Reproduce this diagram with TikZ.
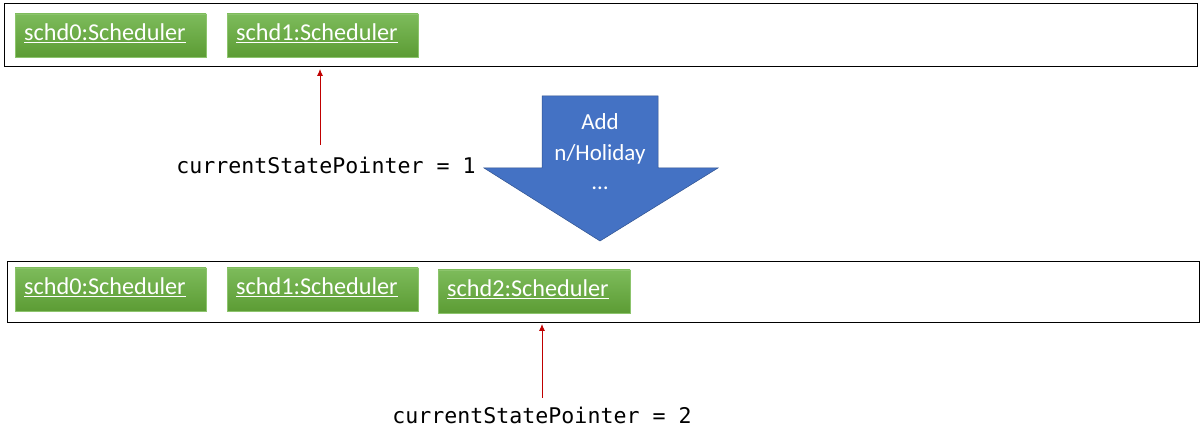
\documentclass[tikz,border=0pt]{standalone}
\usepackage{fontspec}
\setmainfont{Carlito}
\newfontfamily\codefont{DejaVu Sans Mono}
\usetikzlibrary{shadows,arrows.meta}
\definecolor{gtop}{HTML}{7DBB5B}
\definecolor{gbot}{HTML}{5C9C34}
\definecolor{gedge}{HTML}{8CC46C}
\definecolor{ablue}{HTML}{4472C4}
\definecolor{aedge}{HTML}{2F528F}
\definecolor{ptr}{HTML}{C00000}
\tikzset{
  frame/.style={draw=black, line width=1pt},
  obj/.style={draw=gedge, line width=0.6pt, top color=gtop, bottom color=gbot,
    drop shadow={shadow xshift=1pt, shadow yshift=-1.5pt, fill=black!45, opacity=0.5}},
  objtext/.style={anchor=west, text=white, font=\fontsize{24.2}{27}\selectfont, inner sep=0pt},
  pointer/.style={draw=ptr, line width=0.9pt, -{Latex[length=7pt,width=6pt]}},
  code/.style={font=\codefont\fontsize{21.6}{24}\selectfont, inner sep=0pt},
}
\begin{document}
\begin{tikzpicture}[x=1pt,y=-1pt]
\useasboundingbox (0,0) rectangle (1200,427);
\fill[white] (0,0) rectangle (1200,427);
% top frame
\draw[frame] (4,4) rectangle (1197,67);
\path[obj] (15,14) rectangle (206,57);
\node[objtext] (a0) at (24,33) {\underline{schd0:Scheduler}};
\path[obj] (227,14) rectangle (418,57);
\node[objtext] (a1) at (236,33) {\underline{schd1:Scheduler}};
\coordinate (t1) at (320,69);
\node[code, anchor=center] (p1) at (326,165) {currentStatePointer = 1};
\draw[pointer] (320,145) -- (t1);
% big arrow
\path[fill=ablue, draw=aedge, line width=0.5pt] (542,96) -- (658,96) -- (658,168) -- (718,168) -- (600,241) -- (484,168) -- (542,168) -- cycle;
\node[text=white, font=\fontsize{23}{31}\selectfont, align=center, anchor=north] (cmd) at (600,110) {Add\\n/Holiday\\\raisebox{2pt}{\dots}};
% bottom frame
\draw[frame] (7,262) rectangle (1199,323);
\path[obj] (15,268) rectangle (206,311);
\node[objtext] (b0) at (24,287) {\underline{schd0:Scheduler}};
\path[obj] (227,268) rectangle (418,311);
\node[objtext] (b1) at (236,287) {\underline{schd1:Scheduler}};
\path[obj] (438,270) rectangle (630,313);
\node[objtext] (b2) at (447,289) {\underline{schd2:Scheduler}};
\coordinate (t2) at (542,324);
\node[code, anchor=center] (p2) at (542,415) {currentStatePointer = 2};
\draw[pointer] (542,398) -- (t2);
\end{tikzpicture}
\end{document}
